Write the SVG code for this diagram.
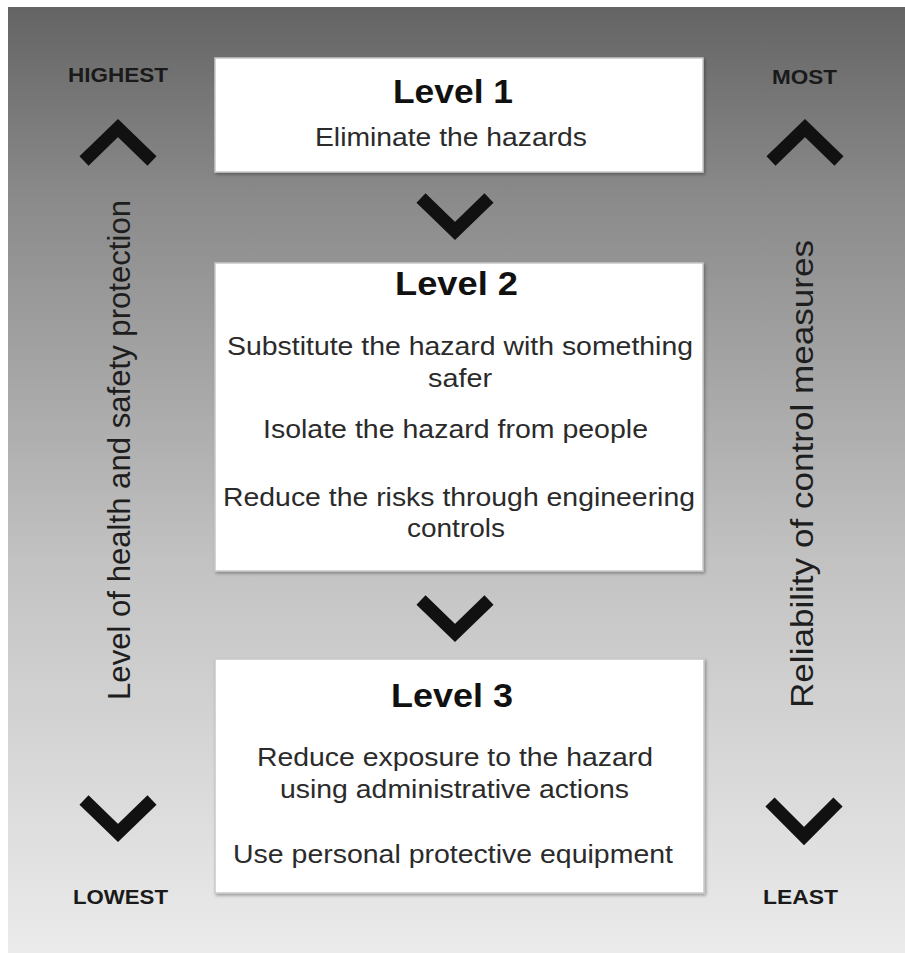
<svg xmlns="http://www.w3.org/2000/svg" width="905" height="953" viewBox="0 0 905 953">
  <defs>
    <linearGradient id="bg" x1="0" y1="0" x2="0" y2="1">
      <stop offset="0" stop-color="#646464"/>
      <stop offset="0.2" stop-color="#8a8a8a"/>
      <stop offset="0.6" stop-color="#c4c4c4"/>
      <stop offset="1" stop-color="#ebebeb"/>
    </linearGradient>
    <filter id="shadow" x="-5%" y="-5%" width="110%" height="115%">
      <feDropShadow dx="1.5" dy="2" stdDeviation="1.5" flood-color="#000" flood-opacity="0.3"/>
    </filter>
  </defs>
  <style>
    .box { fill: #ffffff; stroke: #c8c8c8; stroke-width: 1.5; filter: url(#shadow); }
    .head { font-family: "Liberation Sans", Arial, sans-serif; font-weight: bold; font-size: 33px; fill: #111; text-anchor: middle; }
    .body { font-family: "Liberation Sans", Arial, sans-serif; font-size: 26px; fill: #2b2b2b; text-anchor: middle; }
    .side { font-family: "Liberation Sans", Arial, sans-serif; font-size: 31px; fill: #1e1e1e; text-anchor: middle; }
    .tag { font-family: "Liberation Sans", Arial, sans-serif; font-weight: bold; font-size: 20px; fill: #1a1a1a; text-anchor: middle; }
    .chev { fill: none; stroke: #111; stroke-width: 13; stroke-linejoin: miter; stroke-linecap: butt; }
  </style>

  <!-- backdrop -->
  <rect x="0" y="0" width="905" height="953" fill="#ffffff"/>
  <rect x="8" y="7" width="897" height="946" fill="url(#bg)"/>

  <!-- left scale: level of protection -->
  <g id="scale-left">
    <text class="tag" x="118" y="82" textLength="100" lengthAdjust="spacingAndGlyphs">HIGHEST</text>
    <polyline class="chev" points="84,161 118,128 152,161"/>
    <text class="side" transform="translate(130,450) rotate(-90)" x="0" y="0" textLength="500" lengthAdjust="spacingAndGlyphs">Level of health and safety protection</text>
    <polyline class="chev" points="84,800 118,833 152,800"/>
    <text class="tag" x="120.5" y="904" textLength="95" lengthAdjust="spacingAndGlyphs">LOWEST</text>
  </g>

  <!-- right scale: reliability of controls -->
  <g id="scale-right">
    <text class="tag" x="804.5" y="84" textLength="65" lengthAdjust="spacingAndGlyphs">MOST</text>
    <polyline class="chev" points="771,161 805,128 839,161"/>
    <text class="side" transform="translate(813,474) rotate(-90)" x="0" y="0" textLength="468" lengthAdjust="spacingAndGlyphs">Reliability of control measures</text>
    <polyline class="chev" points="770,802 804,836 838,802"/>
    <text class="tag" x="800.5" y="904" textLength="75" lengthAdjust="spacingAndGlyphs">LEAST</text>
  </g>

  <!-- flow between levels -->
  <g id="connectors">
    <polyline class="chev" points="421,198 455,231 489,198"/>
    <polyline class="chev" points="421,600 455,633 489,600"/>
  </g>

  <g id="level-1">
    <rect class="box" x="215" y="58" width="488" height="114"/>
    <text class="head" x="453" y="103" textLength="120" lengthAdjust="spacingAndGlyphs">Level 1</text>
    <text class="body" x="451" y="146" textLength="272" lengthAdjust="spacingAndGlyphs">Eliminate the hazards</text>
  </g>

  <g id="level-2">
    <rect class="box" x="215" y="263" width="488" height="308"/>
    <text class="head" x="456.5" y="295" textLength="123" lengthAdjust="spacingAndGlyphs">Level 2</text>
    <text class="body" x="460" y="355" textLength="466" lengthAdjust="spacingAndGlyphs">Substitute the hazard with something</text>
    <text class="body" x="460" y="387" textLength="64" lengthAdjust="spacingAndGlyphs">safer</text>
    <text class="body" x="455.5" y="438" textLength="385" lengthAdjust="spacingAndGlyphs">Isolate the hazard from people</text>
    <text class="body" x="459" y="506" textLength="472" lengthAdjust="spacingAndGlyphs">Reduce the risks through engineering</text>
    <text class="body" x="456" y="537" textLength="98" lengthAdjust="spacingAndGlyphs">controls</text>
  </g>

  <g id="level-3">
    <rect class="box" x="215" y="659" width="489" height="234"/>
    <text class="head" x="452" y="707" textLength="122" lengthAdjust="spacingAndGlyphs">Level 3</text>
    <text class="body" x="455" y="766" textLength="396" lengthAdjust="spacingAndGlyphs">Reduce exposure to the hazard</text>
    <text class="body" x="454.5" y="798" textLength="349" lengthAdjust="spacingAndGlyphs">using administrative actions</text>
    <text class="body" x="453" y="863" textLength="440" lengthAdjust="spacingAndGlyphs">Use personal protective equipment</text>
  </g>
</svg>
